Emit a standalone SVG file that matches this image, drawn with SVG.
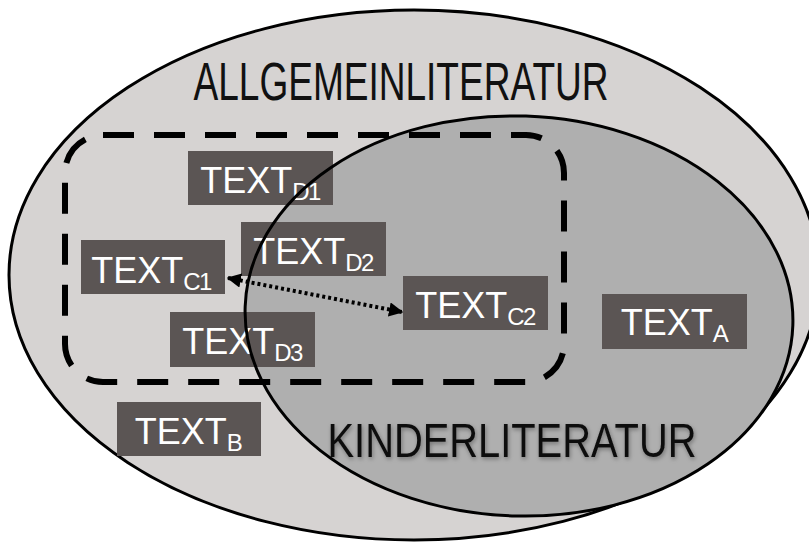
<svg xmlns="http://www.w3.org/2000/svg" width="809" height="544" viewBox="0 0 809 544">
  <style>
    .set-outline { fill: none; stroke: #000; stroke-width: 3; }
    .box rect { fill: #5b5554; }
    .box text { fill: #fff; font-family: "Liberation Sans", Arial, sans-serif; font-size: 36px; text-anchor: middle; }
    .box .sub { font-size: 24px; letter-spacing: -1.5px; }
    .heading { fill: #111; font-family: "Liberation Sans", Arial, sans-serif; text-anchor: middle; }
    .frame { fill: none; stroke: #000; stroke-width: 6; stroke-dasharray: 31 20; }
    .link { fill: none; stroke: #000; stroke-width: 4; stroke-dasharray: 3 3; }
  </style>
  <defs>
    <marker id="head" viewBox="0 0 10 10" refX="9" refY="5" markerWidth="3.6" markerHeight="3.6" orient="auto-start-reverse" markerUnits="strokeWidth">
      <path d="M0,0 L10,5 L0,10 z" fill="#000"/>
    </marker>
    <filter id="soft" x="-5%" y="-20%" width="110%" height="150%">
      <feGaussianBlur in="SourceAlpha" stdDeviation="2"/>
      <feOffset dx="1" dy="2" result="b"/>
      <feFlood flood-color="#000" flood-opacity="0.35"/>
      <feComposite in2="b" operator="in"/>
      <feMerge><feMergeNode/><feMergeNode in="SourceGraphic"/></feMerge>
    </filter>
    <ellipse id="kinder-shape" cx="519" cy="316" rx="274" ry="200" transform="rotate(2 519 316)"/>
  </defs>

  <!-- outer set -->
  <g id="allgemeinliteratur">
    <ellipse cx="414" cy="275" rx="405" ry="265" fill="#d6d3d2" stroke="#000" stroke-width="3"/>
    <text class="heading" x="401" y="100" font-size="53" textLength="415" lengthAdjust="spacingAndGlyphs">ALLGEMEINLITERATUR</text>
  </g>

  <!-- inner set -->
  <g id="kinderliteratur">
    <use href="#kinder-shape" fill="#afafaf"/>
    <text class="heading" x="512" y="457" font-size="49" textLength="369" lengthAdjust="spacingAndGlyphs" filter="url(#soft)">KINDERLITERATUR</text>
  </g>

  <!-- text boxes -->
  <g id="text-d1" class="box">
    <rect x="188" y="151" width="145" height="54"/>
    <text x="260" y="193">TEXT<tspan class="sub" dy="7">D1</tspan></text>
  </g>
  <g id="text-d2" class="box">
    <rect x="241" y="222" width="145" height="54"/>
    <text x="313" y="264">TEXT<tspan class="sub" dy="7">D2</tspan></text>
  </g>
  <g id="text-c1" class="box">
    <rect x="81" y="240" width="144" height="54"/>
    <text x="151" y="283">TEXT<tspan class="sub" dy="7">C1</tspan></text>
  </g>
  <g id="text-c2" class="box">
    <rect x="403" y="276" width="145" height="54"/>
    <text x="475" y="318">TEXT<tspan class="sub" dy="7">C2</tspan></text>
  </g>
  <g id="text-d3" class="box">
    <rect x="170" y="312" width="145" height="55"/>
    <text x="242" y="354">TEXT<tspan class="sub" dy="7">D3</tspan></text>
  </g>
  <g id="text-a" class="box">
    <rect x="602" y="294" width="145" height="55"/>
    <text x="674" y="335">TEXT<tspan class="sub" dy="7">A</tspan></text>
  </g>
  <g id="text-b" class="box">
    <rect x="117" y="402" width="144" height="54"/>
    <text x="188" y="444">TEXT<tspan class="sub" dy="7">B</tspan></text>
  </g>

  <!-- inner set outline sits above the boxes -->
  <use href="#kinder-shape" class="set-outline"/>

  <!-- dashed grouping frame -->
  <g id="group-d">
    <rect class="frame" x="65" y="135" width="499" height="247" rx="38" ry="38"/>
  </g>

  <!-- connectors -->
  <g id="connectors">
    <path class="link" d="M228,278 L402,312" marker-start="url(#head)" marker-end="url(#head)"/>
  </g>
</svg>
